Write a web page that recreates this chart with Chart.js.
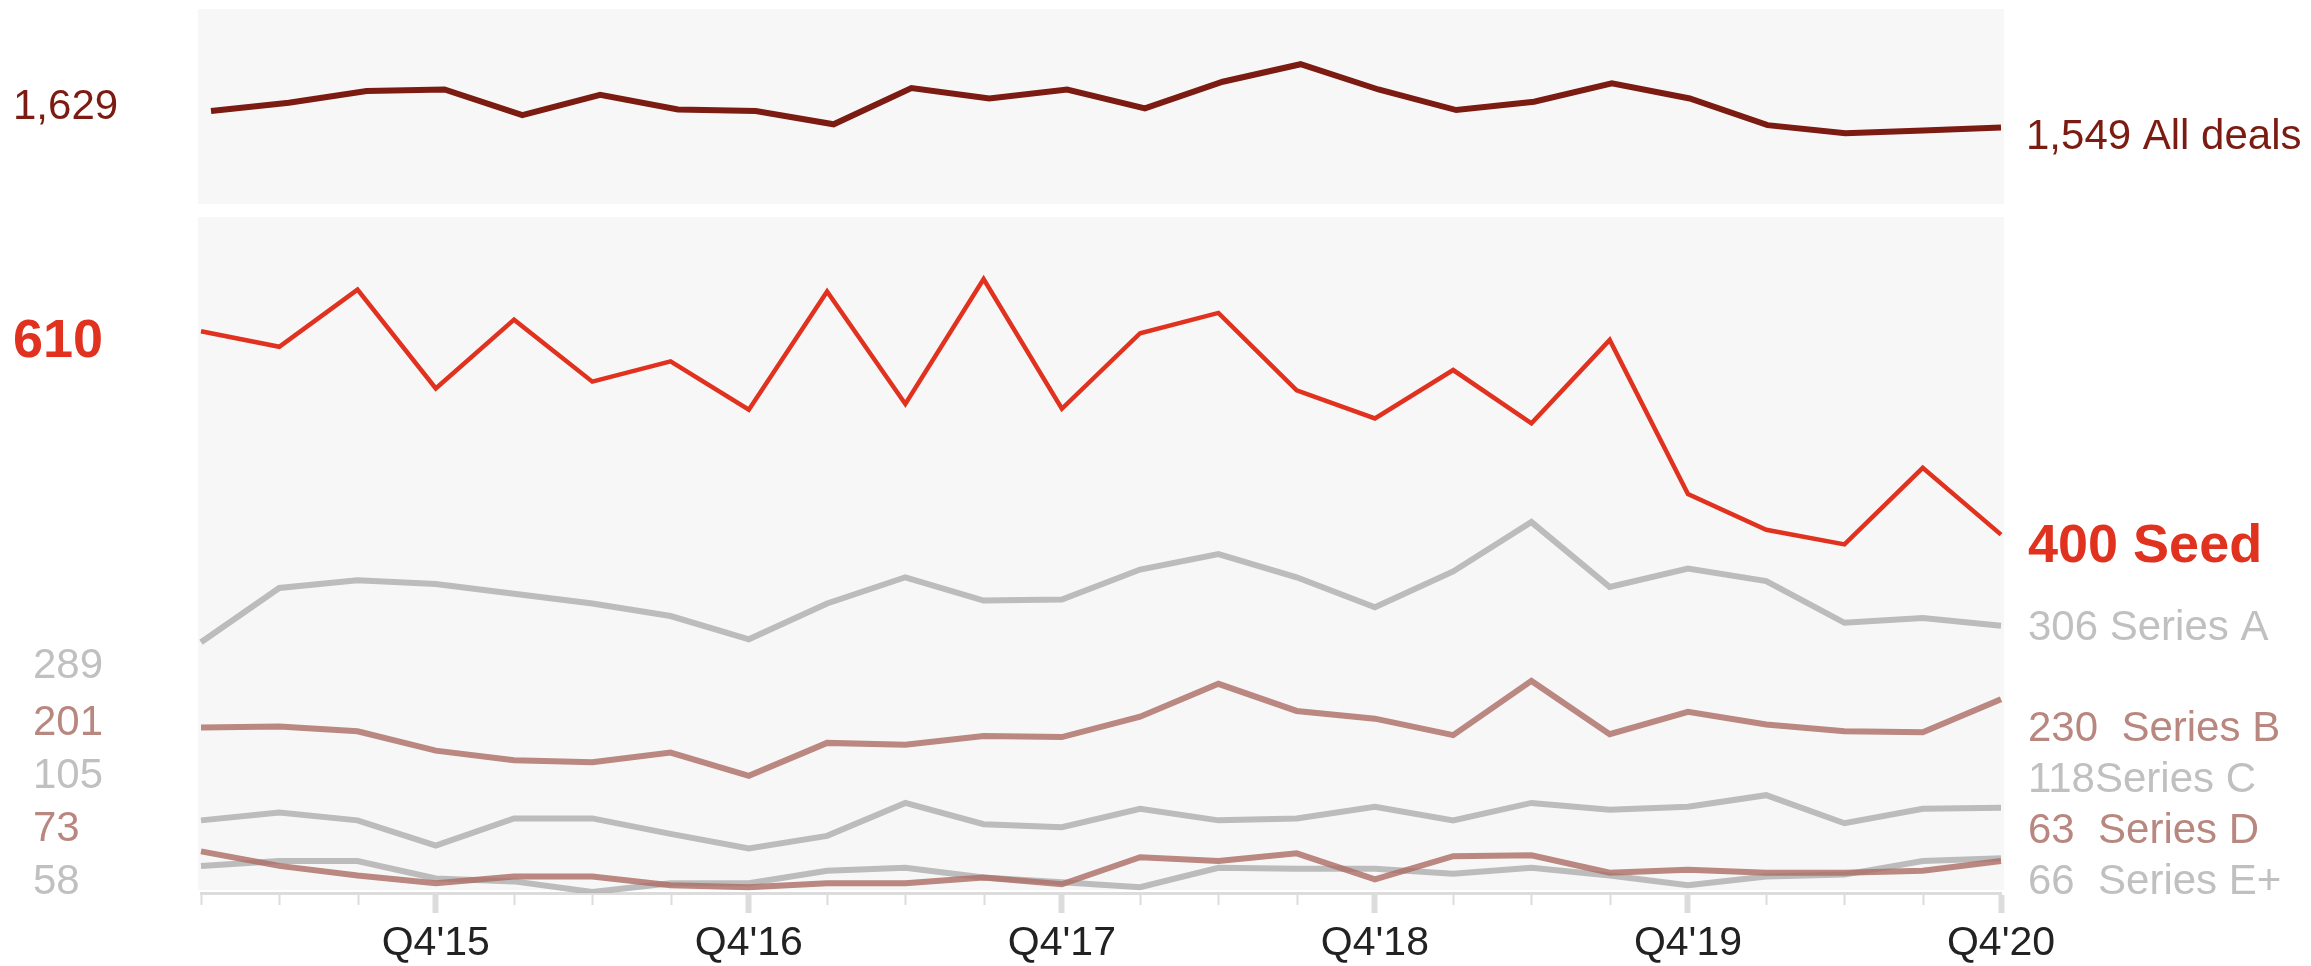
<!DOCTYPE html>
<html>
<head>
<meta charset="utf-8">
<script src="https://cdn.jsdelivr.net/npm/chart.js@4.4.1/dist/chart.umd.min.js"></script>
<style>
html,body{margin:0;padding:0;background:#ffffff;}
#wrap{position:relative;width:2311px;height:966px;overflow:hidden;}
.box{position:absolute;left:0;top:0;width:2311px;height:966px;}
</style>
</head>
<body>
<div id="wrap">
  <div class="box"><canvas id="bottomChart" width="2311" height="966"></canvas></div>
  <div class="box"><canvas id="topChart" width="2311" height="966"></canvas></div>
</div>
<script>
// ---------- DATA ----------
const quarters = ["Q1'15","Q2'15","Q3'15","Q4'15","Q1'16","Q2'16","Q3'16","Q4'16","Q1'17","Q2'17","Q3'17","Q4'17","Q1'18","Q2'18","Q3'18","Q4'18","Q1'19","Q2'19","Q3'19","Q4'19","Q1'20","Q2'20","Q3'20","Q4'20"];
const seriesNames = ["All deals","Seed","Series A","Series B","Series C","Series D","Series E+"];
const allDeals = [1629,1670,1727,1735,1609,1709,1637,1629,1564,1742,1691,1735,1642,1773,1859,1735,1634,1675,1765,1691,1560,1520,1534,1549];
const seed     = [610,594,653,551,622,558,579,529,651,535,664,530,608,629,549,520,570,515,601,442,405,390,469,400];
const seriesA  = [289,345,353,349,339,329,316,292,329,356,332,333,364,380,356,325,362,413,346,365,352,309,314,306];
const seriesB  = [201,202,197,177,167,165,175,151,185,183,192,191,212,246,218,210,193,249,194,217,204,197,196,230];
const seriesC  = [105,113,105,79,107,107,91,76,89,123,101,98,117,105,107,119,105,123,116,119,131,102,117,118];
const seriesD  = [73,58,48,40,47,47,38,36,40,40,46,39,67,63,71,44,68,69,51,54,51,51,53,63];
const seriesE  = [58,63,63,45,42,31,40,40,53,56,46,41,36,56,55,55,50,56,48,38,47,49,63,66];

// ---------- STYLE ----------
const FONT = '"Liberation Sans", Arial, Helvetica, sans-serif';
const GRAY_LINE = 'rgba(172,172,172,0.8)';
const BROWN_LINE = 'rgba(172,110,103,0.82)';
const GRAY_TEXT = '#c0c0c0';
const BROWN_TEXT = '#b8877f';
const styles = [
  {line:'#7b1b12', text:'#7b1b12', width:6, size:42, weight:'400', sep:' ', leftX:13, leftDy:-7, rightX:25, rightDy:7},
  {line:'#e0321e', text:'#e0321e', width:4.5, size:54, weight:'700', sep:' ', leftX:13, leftDy:6, rightX:27, rightDy:8},
  {line:GRAY_LINE, text:GRAY_TEXT, width:6, size:42, weight:'400', sep:' ', leftX:33, leftDy:21, rightX:27, rightDy:-1},
  {line:BROWN_LINE, text:BROWN_TEXT, width:6, size:42, weight:'400', sep:'  ', leftX:33, leftDy:0, rightX:27, rightDy:28},
  {line:GRAY_LINE, text:GRAY_TEXT, width:6, size:42, weight:'400', sep:'', leftX:33, leftDy:0, rightX:27, rightDy:0},
  {line:BROWN_LINE, text:BROWN_TEXT, width:6, size:42, weight:'400', sep:'  ', leftX:33, leftDy:0, rightX:27, rightDy:0},
  {line:GRAY_LINE, text:GRAY_TEXT, width:6, size:42, weight:'400', sep:'  ', leftX:33, leftDy:0, rightX:27, rightDy:0}
];
const fmt = v => v.toLocaleString('en-US');

// ---------- HELPERS ----------
function spread(items, gap, maxY){
  const groups = items.map(it => ({items:[it]}));
  const place = g => {
    const n = g.items.length;
    const mean = g.items.reduce((s, it) => s + it.target, 0) / n;
    let start = mean - (n - 1) * gap / 2;
    start = Math.min(start, maxY - (n - 1) * gap);
    g.start = start;
  };
  groups.forEach(place);
  let changed = true;
  while (changed) {
    changed = false;
    for (let i = 0; i < groups.length - 1; i++) {
      const a = groups[i], b = groups[i + 1];
      if (a.start + (a.items.length - 1) * gap + gap > b.start + 0.01) {
        a.items = a.items.concat(b.items);
        groups.splice(i + 1, 1);
        place(a);
        changed = true;
        break;
      }
    }
  }
  groups.forEach(g => g.items.forEach((it, k) => { it.y = g.start + k * gap; }));
}

function labelPlugin(specs, gaps){
  return {
    id: 'endLabels',
    afterDatasetsDraw(chart){
      const ctx = chart.ctx, ys = chart.scales.y, ca = chart.chartArea;
      ['left','right'].forEach(side => {
        const items = specs.filter(s => s.side === side).map(s => Object.assign({}, s, {target: ys.getPixelForValue(s.value) + s.dy}));
        spread(items, gaps[side], ca.bottom - 14);
        items.forEach(it => {
          ctx.save();
          ctx.font = it.weight + ' ' + it.size + 'px ' + FONT;
          ctx.fillStyle = it.color;
          ctx.textAlign = 'left';
          ctx.textBaseline = 'alphabetic';
          const x = side === 'left' ? it.x : ca.right + it.x;
          ctx.fillText(it.text, x, it.y + 0.358 * it.size);
          ctx.restore();
        });
      });
    }
  };
}

function bgPlugin(padL, padR, padB){
  return {
    id: 'panelBg',
    beforeDraw(chart){
      const ca = chart.chartArea, ctx = chart.ctx;
      ctx.save();
      ctx.fillStyle = '#f7f7f7';
      ctx.fillRect(ca.left - padL, ca.top, (ca.right + padR) - (ca.left - padL), (ca.bottom - padB) - ca.top);
      ctx.restore();
    }
  };
}

const minorTicks = {
  id: 'minorTicks',
  afterDraw(chart){
    const xs = chart.scales.x, ctx = chart.ctx, ca = chart.chartArea;
    ctx.save();
    ctx.strokeStyle = '#dcdcdc';
    ctx.lineWidth = 2;
    quarters.forEach((q, i) => {
      if (q.startsWith('Q4')) return;
      const x = Math.round(xs.getPixelForValue(i)) + 0.5;
      ctx.beginPath();
      ctx.moveTo(x, ca.bottom);
      ctx.lineTo(x, ca.bottom + 12);
      ctx.stroke();
    });
    ctx.restore();
  }
};

function makeSpecs(list){
  const specs = [];
  list.forEach(({idx, data}) => {
    const st = styles[idx];
    specs.push({side:'left', value:data[0], text:fmt(data[0]), color:st.text, size:st.size, weight:st.weight, x:st.leftX, dy:st.leftDy});
    const last = data[data.length - 1];
    specs.push({side:'right', value:last, text:fmt(last) + st.sep + seriesNames[idx], color:st.text, size:st.size, weight:st.weight, x:st.rightX, dy:st.rightDy});
  });
  return specs;
}

function ds(idx, data){
  const st = styles[idx];
  return {label: seriesNames[idx], data: data, borderColor: st.line, borderWidth: st.width,
          pointRadius: 0, pointHoverRadius: 0, tension: 0, fill: false, borderJoinStyle: 'miter'};
}

// ---------- BOTTOM CHART ----------
const bottomList = [
  {idx:1, data:seed}, {idx:2, data:seriesA}, {idx:3, data:seriesB},
  {idx:4, data:seriesC}, {idx:5, data:seriesD}, {idx:6, data:seriesE}
];
new Chart(document.getElementById('bottomChart'), {
  type: 'line',
  data: { labels: quarters, datasets: bottomList.map(s => ds(s.idx, s.data)) },
  options: {
    responsive: false, animation: false, events: [],
    layout: { padding: { left: 201, right: 310, top: 217, bottom: 0 } },
    scales: {
      x: {
        display: true,
        afterFit(scale){ scale.height = 73; },
        border: { display: true, color: '#dcdcdc', width: 3 },
        grid: {
          display: true, drawOnChartArea: false, drawTicks: true, tickLength: 20,
          tickWidth: 6,
          tickColor: c => (quarters[c.index] || '').startsWith('Q4') ? '#dcdcdc' : 'rgba(0,0,0,0)'
        },
        ticks: {
          autoSkip: false, maxRotation: 0, minRotation: 0, padding: 6,
          color: '#222222', font: { family: FONT, size: 41 },
          callback: (v, i) => quarters[i].startsWith('Q4') ? quarters[i] : ''
        }
      },
      y: { display: false, min: 30, max: 728 }
    },
    plugins: { legend: { display: false }, tooltip: { enabled: false } }
  },
  plugins: [bgPlugin(3, 3, 3), minorTicks, labelPlugin(makeSpecs(bottomList), {left: 53, right: 51})]
});

// ---------- TOP CHART ----------
const topList = [{idx:0, data:allDeals}];
new Chart(document.getElementById('topChart'), {
  type: 'line',
  data: { labels: quarters, datasets: topList.map(s => ds(s.idx, s.data)) },
  options: {
    responsive: false, animation: false, events: [],
    layout: { padding: { left: 211, right: 310, top: 9, bottom: 762 } },
    scales: {
      x: { display: false },
      y: { display: false, min: 1173, max: 2130 }
    },
    plugins: { legend: { display: false }, tooltip: { enabled: false } }
  },
  plugins: [bgPlugin(13, 3, 0), labelPlugin(makeSpecs(topList), {left: 53, right: 51})]
});
</script>
</body>
</html>
